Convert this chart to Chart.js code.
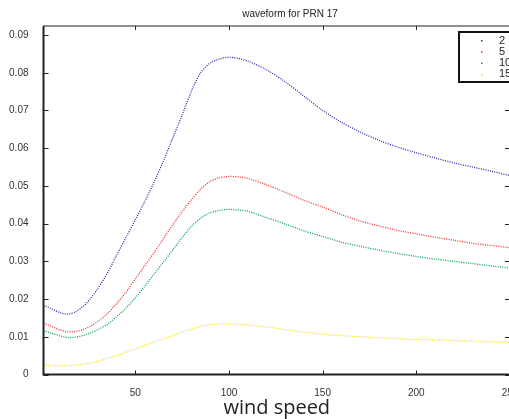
<!DOCTYPE html>
<html>
<head>
<meta charset="utf-8">
<script src="https://cdn.jsdelivr.net/npm/chart.js@4/dist/chart.umd.min.js"></script>
<style>
	html, body { margin: 0; padding: 0; background: #fff; overflow: hidden; }
	#wrap { width: 509px; height: 419px; overflow: hidden; }
</style>
</head>
<body>
<div id="wrap"><canvas id="waveChart" width="580" height="419"></canvas></div>
<script>
// wind speed samples and waveform amplitude for each curve
const windSpeed = [1, 5, 10, 14, 18, 22, 26, 30, 35, 40, 45, 50, 55, 60, 65, 70, 75, 80, 85, 90, 95, 100,
	105, 110, 120, 130, 140, 150, 160, 170, 180, 190, 200, 210, 220, 230, 240, 250];
const seriesLabels = ['2', '5', '10', '15'];
const wave2 = [0.0184, 0.0175, 0.0164, 0.0160, 0.0166, 0.0180, 0.0201, 0.0228,
	0.0268, 0.0316, 0.0363, 0.0410, 0.0458, 0.0510, 0.0566, 0.0627, 0.0688, 0.0752, 0.0801, 0.0826, 0.0837, 0.0841,
	0.0838, 0.0831,
	0.0808, 0.0776, 0.0738, 0.0700, 0.0669, 0.0643, 0.0621, 0.0603, 0.0588, 0.0574, 0.0561, 0.0550, 0.0539, 0.0527];
const wave5 = [0.0136, 0.0128, 0.0118, 0.0113, 0.0114, 0.0119, 0.0128, 0.0141,
	0.0161, 0.0188, 0.0218, 0.0253, 0.0288, 0.0323, 0.0360, 0.0397, 0.0432, 0.0463, 0.0492, 0.0512, 0.0522, 0.0525,
	0.0524, 0.0520,
	0.0503, 0.0483, 0.0462, 0.0444, 0.0424, 0.0407, 0.0394, 0.0382, 0.0373, 0.0364, 0.0356, 0.0348, 0.0342, 0.0336];
const wave10 = [0.0116, 0.0110, 0.0102, 0.0098, 0.0099, 0.0103, 0.0110, 0.0119,
	0.0133, 0.0153, 0.0176, 0.0203, 0.0234, 0.0266, 0.0298, 0.0330, 0.0363, 0.0393, 0.0415, 0.0429, 0.0435, 0.0438,
	0.0436, 0.0433,
	0.0416, 0.0399, 0.0381, 0.0366, 0.0351, 0.0340, 0.0330, 0.0321, 0.0313, 0.0306, 0.0300, 0.0294, 0.0288, 0.0282];
const wave15 = [0.0025, 0.0024, 0.0023, 0.0024, 0.0025, 0.0027, 0.0030, 0.0035,
	0.0042, 0.0050, 0.0059, 0.0068, 0.0077, 0.0086, 0.0094, 0.0103, 0.0112, 0.0120, 0.0128, 0.0132, 0.0134, 0.0134,
	0.0133, 0.0131,
	0.0126, 0.0119, 0.0112, 0.0107, 0.0103, 0.0100, 0.0097, 0.0095, 0.0093, 0.0092, 0.0090, 0.0088, 0.0087, 0.0085];
const xTickValues = [50, 100, 150, 200, 250];
const yTickValues = [0, 0.01, 0.02, 0.03, 0.04, 0.05, 0.06, 0.07, 0.08, 0.09];

const colors = ['#2b2ba6', '#f03030', '#00a050', '#f2e21a'];
const waves = [wave2, wave5, wave10, wave15];

function makeSet(i) {
	return {
		label: seriesLabels[i],
		data: windSpeed.map((x, k) => ({ x: x, y: waves[i][k] })),
		borderColor: colors[i],
		backgroundColor: colors[i],
		borderWidth: 1.3,
		borderDash: [1, 1.3],
		pointRadius: 0,
		fill: false,
		tension: 0.3
	};
}

// axes box with inward ticks, matlab style
const axesBox = {
	id: 'axesBox',
	afterDatasetsDraw(chart) {
		const ctx = chart.ctx;
		const a = chart.chartArea;
		const xs = chart.scales.x, ys = chart.scales.y;
		ctx.save();
		ctx.strokeStyle = '#222';
		ctx.lineWidth = 1;
		ctx.strokeRect(a.left, a.top, a.right - a.left, a.bottom - a.top);
		ctx.lineWidth = 2;
		ctx.beginPath();
		ctx.moveTo(a.left, a.top);
		ctx.lineTo(a.left, a.bottom);
		ctx.lineTo(a.right, a.bottom);
		ctx.stroke();
		ctx.lineWidth = 1;
		ctx.beginPath();
		xTickValues.forEach(v => {
			const px = Math.round(xs.getPixelForValue(v)) + 0.5;
			ctx.moveTo(px, a.bottom); ctx.lineTo(px, a.bottom - 4);
			ctx.moveTo(px, a.top); ctx.lineTo(px, a.top + 4);
		});
		yTickValues.forEach(v => {
			const py = Math.round(ys.getPixelForValue(v)) + 0.5;
			ctx.moveTo(a.left, py); ctx.lineTo(a.left + 5, py);
			ctx.moveTo(a.right, py); ctx.lineTo(a.right - 5, py);
		});
		ctx.stroke();
		ctx.restore();
	}
};

// boxed legend in the upper right corner
const boxLegend = {
	id: 'boxLegend',
	afterDraw(chart) {
		const ctx = chart.ctx;
		const left = 459, top = 32, w = 80, h = 50;
		ctx.save();
		ctx.fillStyle = '#fff';
		ctx.fillRect(left, top, w, h);
		ctx.strokeStyle = '#111';
		ctx.lineWidth = 2;
		ctx.strokeRect(left, top, w, h);
		ctx.font = '11px "Liberation Sans", Arial, sans-serif';
		ctx.textBaseline = 'middle';
		chart.data.datasets.forEach((ds, i) => {
			const y = 40.5 + i * 11.3;
			ctx.fillStyle = ds.borderColor;
			ctx.fillRect(481, y - 0.5, 1.5, 1.5);
			ctx.fillStyle = '#222';
			ctx.fillText(ds.label, 499, y);
		});
		ctx.restore();
	}
};

const ctx = document.getElementById('waveChart').getContext('2d');
new Chart(ctx, {
	type: 'line',
	data: { datasets: [0, 1, 2, 3].map(makeSet) },
	options: {
		responsive: false,
		animation: false,
		layout: { padding: 0 },
		plugins: {
			legend: { display: false },
			tooltip: { enabled: false },
			title: {
				display: true,
				text: 'waveform for PRN 17',
				color: '#222',
				font: { family: '"Liberation Sans", Arial, sans-serif', size: 10, weight: 'normal' },
				padding: { top: 8, bottom: 6 }
			}
		},
		scales: {
			x: {
				type: 'linear',
				min: 1,
				max: 250,
				grid: { display: false },
				border: { display: false },
				afterBuildTicks: s => { s.ticks = xTickValues.map(v => ({ value: v })); },
				afterFit: s => { s.height = 44.5; },
				ticks: {
					color: '#333',
					padding: 5,
					maxRotation: 0,
					font: { family: '"Liberation Sans", Arial, sans-serif', size: 10 }
				},
				title: {
					display: true,
					text: 'wind speed',
					color: '#222',
					padding: { top: 0, bottom: 0 },
					font: { family: '"Open Sans", "Noto Sans", sans-serif', size: 20, lineHeight: 1.05 }
				}
			},
			y: {
				min: 0,
				max: 0.0924,
				grid: { display: false },
				border: { display: false },
				afterBuildTicks: s => { s.ticks = yTickValues.map(v => ({ value: v })); },
				afterFit: s => { s.width = 43.5; },
				ticks: {
					color: '#333',
					padding: 7,
					font: { family: '"Liberation Sans", Arial, sans-serif', size: 10 },
					callback: v => String(+v.toFixed(2))
				}
			},
			// empty right-hand axis keeps room for the figure beyond the plot edge
			yRight: {
				position: 'right',
				min: 0,
				max: 0.0924,
				grid: { display: false },
				border: { display: false },
				ticks: { display: false },
				afterFit: s => { s.width = 70; }
			}
		}
	},
	plugins: [axesBox, boxLegend]
});
</script>
</body>
</html>
